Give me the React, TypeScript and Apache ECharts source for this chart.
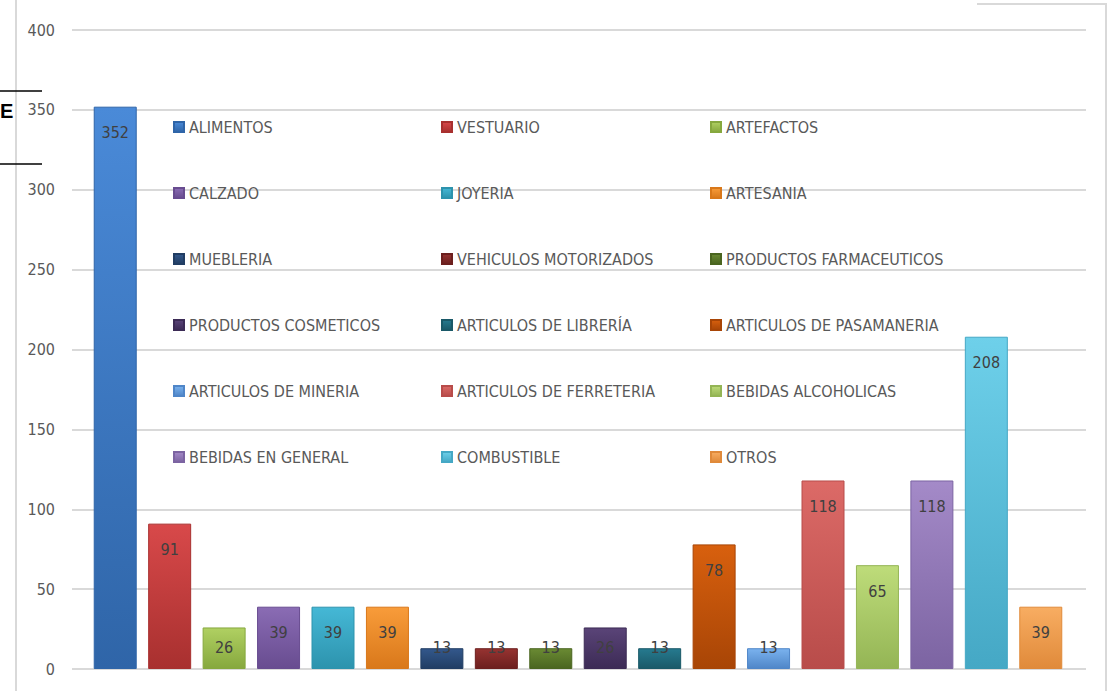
import React, { useEffect, useRef } from "react";
import * as echarts from "echarts";

const categories = [
  "ALIMENTOS", "VESTUARIO", "ARTEFACTOS",
  "CALZADO", "JOYERIA", "ARTESANIA",
  "MUEBLERIA", "VEHICULOS MOTORIZADOS", "PRODUCTOS FARMACEUTICOS",
  "PRODUCTOS COSMETICOS", "ARTICULOS DE LIBRERÍA", "ARTICULOS DE PASAMANERIA",
  "ARTICULOS DE MINERIA", "ARTICULOS DE FERRETERIA", "BEBIDAS ALCOHOLICAS",
  "BEBIDAS EN GENERAL", "COMBUSTIBLE", "OTROS",
];
const values = [352, 91, 26, 39, 39, 39, 13, 13, 13, 26, 13, 78, 13, 118, 65, 118, 208, 39];
const yTicks = [0, 50, 100, 150, 200, 250, 300, 350, 400];
const colors = [
  ["#4a8ad8", "#2f65a8"], ["#d8494a", "#a8302f"], ["#b0d062", "#86a83e"],
  ["#8a6cb4", "#684c90"], ["#45b8d6", "#2d93ad"], ["#f89c3a", "#d9781a"],
  ["#33588c", "#213d63"], ["#963331", "#6c1f1e"], ["#6a8a33", "#4a6520"],
  ["#5a4478", "#3c2b55"], ["#267a8f", "#1a5968"], ["#d8600e", "#a84506"],
  ["#7ab2ee", "#4f86c8"], ["#dc6a67", "#b84c4a"], ["#bedc7a", "#94b555"],
  ["#a48ac8", "#7c64a2"], ["#6ed0ea", "#45a8c5"], ["#f8ad62", "#e08a3a"],
];

const FONT = "'Liberation Sans Narrow', 'DejaVu Sans Condensed', 'Liberation Sans', sans-serif";

export default function App() {
  const ref = useRef<HTMLDivElement>(null);
  useEffect(() => {
    const chart = echarts.init(ref.current!, null, { renderer: "svg" });
    const series: any[] = categories.map((name, i) => ({
      name,
      type: "bar",
      stack: "all",
      xAxisIndex: 1,
      yAxisIndex: 1,
      barWidth: 43,
      itemStyle: {
        color: new echarts.graphic.LinearGradient(0, 0, 0, 1, [
          { offset: 0, color: colors[i][0] },
          { offset: 1, color: colors[i][1] },
        ]),
        borderColor: colors[i][1],
        borderWidth: 1,
      },
      label: {
        show: true,
        position: values[i] < 30 ? "insideBottom" : "insideTop",
        distance: values[i] < 30 ? 12 : 16,
        color: "#404040",
        fontSize: 16,
        lineHeight: 20,
        fontFamily: FONT,
        formatter: (p: any) => (p.value == null ? "" : String(p.value)),
      },
      data: categories.map((_, j) => (j === i ? values[i] : null)),
    }));
    series.push({
      type: "bar",
      xAxisIndex: 0,
      yAxisIndex: 0,
      data: [],
      silent: true,
    });
    const legendCols = [0, 1, 2].map((c) => ({
      orient: "vertical",
      left: [173, 441, 710][c],
      top: 117,
      padding: 0,
      itemWidth: 10,
      itemHeight: 10,
      itemGap: 46,
      icon: "rect",
      textStyle: { color: "#595959", fontSize: 16, lineHeight: 20, fontFamily: FONT },
      data: categories.filter((_, i) => i % 3 === c),
    }));
    chart.setOption({
      animation: false,
      grid: [
        { left: 72, right: 22, top: 30, bottom: 22 },
        { left: 88, right: 40, top: 30, bottom: 22 },
      ],
      xAxis: [
        { type: "category", gridIndex: 0, data: [""], show: false },
        { type: "category", gridIndex: 1, data: categories, axisLine: { show: false }, axisTick: { show: false }, axisLabel: { show: false } },
      ],
      yAxis: [
        {
          type: "value", gridIndex: 0, min: yTicks[0], max: yTicks[yTicks.length - 1], interval: 50,
          axisLabel: { color: "#595959", fontSize: 16, fontFamily: FONT, margin: 17 },
          splitLine: { lineStyle: { color: "#d9d9d9", width: 2 } },
          axisLine: { show: false }, axisTick: { show: false },
        },
        { type: "value", gridIndex: 1, min: 0, max: 400, show: false, splitLine: { show: false } },
      ],
      legend: legendCols,
      series,
      graphic: [
        { type: "line", shape: { x1: 16, y1: 0, x2: 16, y2: 691 }, style: { stroke: "#d9d9d9", lineWidth: 2 } },
        { type: "line", shape: { x1: 977, y1: 4, x2: 1107, y2: 4 }, style: { stroke: "#d9d9d9", lineWidth: 2 } },
        { type: "line", shape: { x1: 1106, y1: 4, x2: 1106, y2: 691 }, style: { stroke: "#d9d9d9", lineWidth: 2 } },
        { type: "line", shape: { x1: 0, y1: 91, x2: 42, y2: 91 }, style: { stroke: "#000", lineWidth: 1.5 } },
        { type: "line", shape: { x1: 0, y1: 164, x2: 42, y2: 164 }, style: { stroke: "#000", lineWidth: 1.5 } },
        { type: "text", left: 0, top: 101, style: { text: "E", fill: "#000", fontSize: 20, fontWeight: "bold", fontFamily: "'Liberation Sans', sans-serif" } },
      ],
    });
    return () => chart.dispose();
  }, []);
  return <div ref={ref} style={{ position: "absolute", left: 0, top: 0, width: 1108, height: 691, background: "#fff" }} />;
}
